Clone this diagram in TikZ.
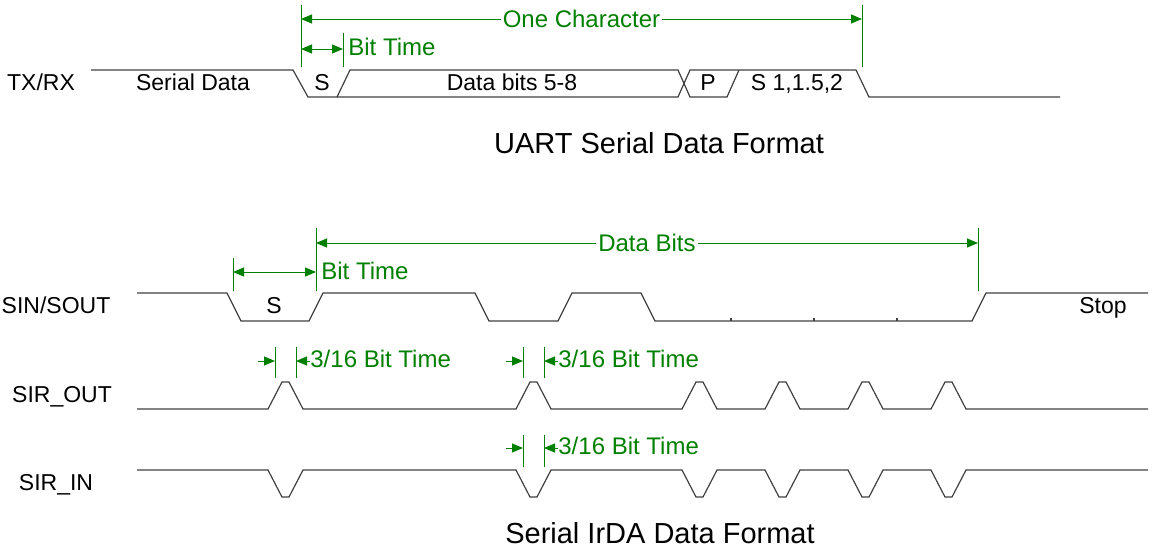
\documentclass[tikz,border=0pt]{standalone}
\usepackage{fontspec}
\setmainfont{Liberation Sans}
\usetikzlibrary{arrows.meta,positioning}
\definecolor{dimgreen}{HTML}{008000}
\definecolor{wire}{HTML}{404040}

\begin{document}
\begin{tikzpicture}[
  x=0.5pt, y=-0.5pt,
  wave/.style={draw=wire,line width=0.6pt,line join=miter},
  guide/.style={draw=dimgreen,line width=0.5pt},
  dim/.style={guide,{Triangle[length=5.5pt,width=4.5pt]}-{Triangle[length=5.5pt,width=4.5pt]}},
  dimr/.style={guide,-{Triangle[length=5.5pt,width=4.5pt]}},
  siglabel/.style={font=\fontsize{11.5}{13}\selectfont,anchor=base},
  dimtext/.style={text=dimgreen,font=\fontsize{12}{14}\selectfont},
  dimlbl/.style={dimtext,fill=white,inner sep=1pt,midway},
  title/.style={font=\fontsize{14.5}{17}\selectfont,anchor=base}
]
\useasboundingbox (0,0) rectangle (1158,547);

% UART frame
\draw[wave] (91,70) -- (293,70) -- (308,97) -- (678,97) -- (690,70) -- (856,70) -- (869,97) -- (1060,97);
\draw[wave] (337,97) -- (350,70) -- (678,70) -- (690,97) -- (727,97) -- (739,70);
\node[siglabel] (txrx) at (41,90) {TX/RX};
\node[siglabel] (serdata) at (193,90) {Serial Data};
\node[siglabel] (sbit) at (322,90) {S};
\node[siglabel] (databits) at (512,90) {Data bits 5-8};
\node[siglabel] (pbit) at (708,90) {P};
\node[siglabel] (stopbits) at (797,90) {S 1,1.5,2};
\node[title] (uarttitle) at (659,153) {UART Serial Data Format};

% IrDA frames
\draw[wave] (137,293) -- (227,293) -- (241,321) -- (309,321) -- (323,293) -- (475,293) -- (489,321)
  -- (558,321) -- (572,293) -- (641,293) -- (655,321) -- (972,321) -- (986,293) -- (1148,293);
\foreach \x in {731,814,897}
  \draw[wave] (\x,321) -- (\x,318);
\draw[wave] (137,409) \foreach \s in {268,516,682,765,848,931} {
  -- (\s,409) -- ++(14,-27) -- ++(7,0) -- ++(14,27) } -- (1148,409);
\draw[wave] (137,470) \foreach \s in {268,516,682,765,848,931} {
  -- (\s,470) -- ++(14,27) -- ++(7,0) -- ++(14,-27) } -- (1148,470);
\node[siglabel] (sin) at (56,313) {SIN/SOUT};
\node[siglabel] (sbit2) at (274,313) {S};
\node[siglabel] (stoplbl) at (1103,313) {Stop};
\node[siglabel] (sirout) at (62,402) {SIR\_OUT};
\node[siglabel] (sirin) at (56,490) {SIR\_IN};
\node[title] (irdatitle) at (660,543) {Serial IrDA Data Format};

% green guides
\foreach \nm/\x/\ya/\yb in {gA/301/5/67, gB/862/5/67, gC/343/33/67, gD/316/228/291, gE/978/228/291,
    gF/233/258/291, gG/275/347/378, gH/296/347/378, gI/523/347/378, gJ/544/347/378,
    gK/523/435/467, gL/544/435/467}
  \draw[guide] (\x,\ya) coordinate (\nm t) -- (\x,\yb) coordinate (\nm b);

\coordinate (ocL) at (301,19);  \coordinate (ocR) at (862,19);
\coordinate (bt1L) at (301,49); \coordinate (bt1R) at (343,49);
\coordinate (dbL) at (316,243); \coordinate (dbR) at (978,243);
\coordinate (bt2L) at (233,272); \coordinate (bt2R) at (316,272);
\draw[dim] (ocL) -- node[dimlbl] (onechar) {One Character} (ocR);
\draw[dim] (bt1L) -- (bt1R);
\draw[dim] (dbL) -- node[dimlbl] (databitslbl) {Data Bits} (dbR);
\draw[dim] (bt2L) -- (bt2R);
\node[dimtext,anchor=base west,inner sep=0pt] (bittime1) at (348,55) {Bit Time};
\node[dimtext,anchor=base west,inner sep=0pt] (bittime2) at (321,279) {Bit Time};

% 3/16 pulse widths
\foreach \nm/\xa/\xb/\xc/\xd/\y in {fa/258/275/296/310/361, fb/506/523/544/558/361, fc/506/523/544/558/448} {
  \coordinate (\nm1) at (\xa,\y); \coordinate (\nm2) at (\xb,\y);
  \coordinate (\nm3) at (\xc,\y); \coordinate (\nm4) at (\xd,\y);
  \draw[dimr] (\nm1) -- (\nm2);
  \draw[dimr] (\nm4) -- (\nm3);
  \node[dimtext,anchor=base west,inner sep=0pt] (\nm lbl) at (\xd,\y+6) {3/16 Bit Time};
}
\end{tikzpicture}
\end{document}
